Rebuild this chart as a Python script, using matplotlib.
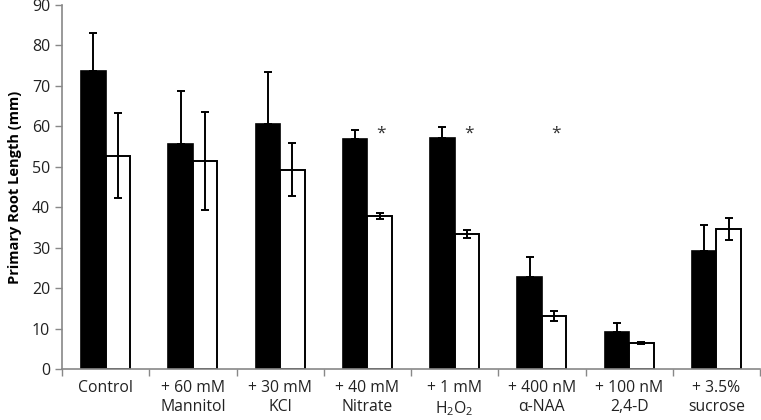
"""Primary root length under treatments: paired bars with one-sided / two-sided error bars."""
import matplotlib
matplotlib.use("Agg")
import matplotlib.pyplot as plt
import numpy as np

CATEGORIES = ["Control", "+ 60 mM\nMannitol", "+ 30 mM\nKCl", "+ 40 mM\nNitrate",
              "+ 1 mM\nH$_2$O$_2$", "+ 400 nM\n\u03b1-NAA", "+ 100 nM\n2,4-D", "+ 3.5%\nsucrose"]
BLACK_VALUES = [73.7, 55.7, 60.6, 56.8, 57.1, 22.8, 9.3, 29.3]
BLACK_ERR = [9.3, 13.1, 12.8, 2.3, 2.8, 4.9, 2.1, 6.3]
WHITE_VALUES = [52.8, 51.5, 49.3, 37.9, 33.5, 13.1, 6.5, 34.7]
WHITE_ERR = [10.5, 12.1, 6.5, 0.7, 1.0, 1.2, 0.3, 2.8]
STAR_INDEX = [3, 4, 5]
STAR_Y = 58.3

plt.rcParams.update({
    "font.family": ["Open Sans", "DejaVu Sans"],
    "font.size": 11.3,
    "mathtext.fontset": "custom",
    "mathtext.rm": "Open Sans",
})

fig = plt.figure(figsize=(7.61, 4.20), dpi=100)
ax = fig.add_axes([62 / 761, 1 - 369.3 / 420, 698 / 761, (369.3 - 5) / 420])

x = np.arange(len(CATEGORIES))
w = 0.28
err_kw = dict(ecolor="black", elinewidth=1.4, capsize=3, capthick=1.4)

ax.bar(x - w / 2, BLACK_VALUES, width=w, color="black", edgecolor="black",
       linewidth=1.2, yerr=[np.zeros(len(BLACK_ERR)), BLACK_ERR], error_kw=err_kw, zorder=2)
ax.bar(x + w / 2, WHITE_VALUES, width=w, color="white", edgecolor="black",
       linewidth=1.4, yerr=WHITE_ERR, error_kw=err_kw, zorder=2)

for i in STAR_INDEX:
    ax.text(x[i] + w / 2 + 0.02, STAR_Y, "*", ha="center", va="center",
            fontsize=12.5, color="#333333")

ax.set_xlim(-0.5, len(CATEGORIES) - 0.5)
ax.set_ylim(0, 90)
ax.set_yticks(range(0, 91, 10))
ax.set_xticks(x)
ax.set_xticklabels(CATEGORIES, va="top", linespacing=1.2)
ax.set_xticks(np.arange(-0.5, len(CATEGORIES)), minor=True)
ax.tick_params(axis="x", which="major", length=0, pad=8, colors="#222222")
ax.tick_params(axis="x", which="minor", length=5, color="#888888", width=1)
ax.tick_params(axis="y", length=5, color="#888888", width=1, colors="#222222", labelsize=11.5)
ax.tick_params(axis="y", color="#888888")

for s in ["top", "right"]:
    ax.spines[s].set_visible(False)
for s in ["left", "bottom"]:
    ax.spines[s].set_color("#888888")
    ax.spines[s].set_linewidth(1.2)

ax.set_ylabel("Primary Root Length (mm)", fontsize=10.5, weight="bold", labelpad=7)

fig.savefig("out.png", dpi=100, facecolor="white")
